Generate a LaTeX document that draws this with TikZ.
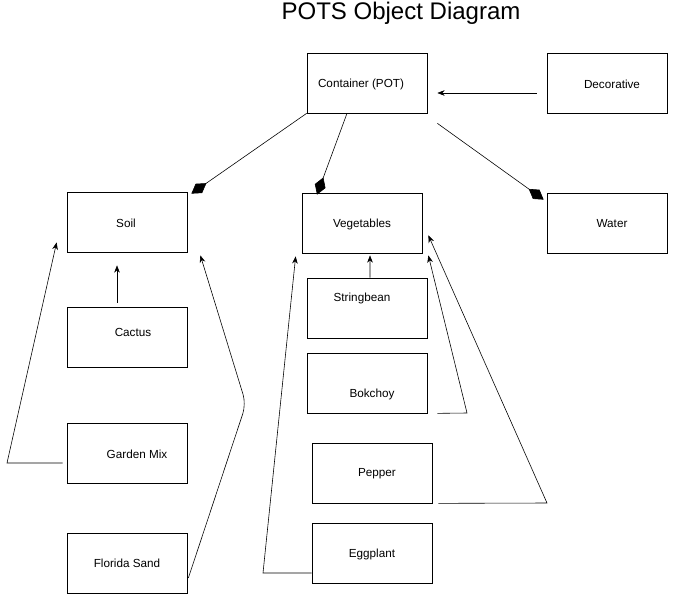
\documentclass[tikz,border=0pt]{standalone}
\usepackage{fontspec}
\setmainfont{Liberation Sans}
\usetikzlibrary{arrows.meta}

\tikzset{
    obj/.style={draw, black, line width=0.6pt, minimum width=3.6cm, minimum height=1.8cm, inner sep=0pt},
    objlabel/.style={font=\fontsize{10}{12}\selectfont, inner sep=0pt},
    link/.style={black, line width=0.5pt, -{Stealth[length=2.2mm, width=1.7mm]}},
    owns/.style={black, line width=0.5pt, -{Diamond[length=5.5mm, width=3.4mm]}}
}

\begin{document}
\begin{tikzpicture}[x=0.03cm, y=-0.03cm]
        \useasboundingbox (0,0) rectangle (678,595);
        \newcommand{\objbox}[4]{
            \node[obj] (#1) at (#2) {};
            \node[objlabel] (#1-txt) at (#3) {#4};
        }

        \node[font=\fontsize{20.5}{24}\selectfont] (title) at (401,13) {POTS Object Diagram};

        \objbox{pot}{367,83}{361,84}{Container (POT)}
        \objbox{deco}{607,83}{612,84}{Decorative}
        \objbox{soil}{127,222}{126,223}{Soil}
        \objbox{veg}{362,223}{362,224}{Vegetables}
        \objbox{water}{607,223}{612,224}{Water}

        \objbox{cactus}{127,337}{133,332}{Cactus}
        \objbox{garden}{127,453}{137,454}{Garden Mix}
        \objbox{sand}{127,563}{127,563}{Florida Sand}

        \objbox{bean}{367,308}{362,298}{Stringbean}
        \objbox{bok}{367,383}{372,394}{Bokchoy}
        \objbox{pepper}{372,473}{377,474}{Pepper}
        \objbox{egg}{372,553}{372,554}{Eggplant}

        % composition
        \draw[owns] (pot.south west) -- ([xshift=0.12cm, yshift=-0.06cm]soil.north east);
        \draw[owns] ([xshift=-0.6cm]pot.south) -- ([xshift=-1.35cm, yshift=-0.06cm]veg.north);
        \draw[owns] ([xshift=0.3cm, yshift=-0.3cm]pot.south east) -- ([xshift=-0.09cm, yshift=-0.21cm]water.north west);

        % inheritance
        \draw[link] ([xshift=-0.3cm, yshift=-0.3cm]deco.west) -- ([xshift=0.3cm, yshift=-0.3cm]pot.east);
        \draw[link] ([xshift=-0.3cm, yshift=0.12cm]cactus.north) -- ([xshift=-0.3cm, yshift=-0.39cm]soil.south);
        \draw[link] ([xshift=-0.12cm, yshift=-0.3cm]garden.west) -- (7,463) -- ([xshift=-0.3cm, yshift=0.3cm]soil.south west);
        \draw[link, rounded corners=0.3cm] ([xshift=0.03cm, yshift=-0.45cm]sand.east) -- (246,404) -- ([xshift=0.39cm, yshift=-0.09cm]soil.south east);

        \draw[link] ([xshift=0.09cm]bean.north) -- ([xshift=0.24cm, yshift=-0.06cm]veg.south);
        \draw[link] ([xshift=0.3cm]bok.south east) -- (467,413) -- ([xshift=0.18cm, yshift=-0.06cm]veg.south east);
        \draw[link] ([xshift=0.18cm]pepper.south east) -- (547,503) -- ([xshift=0.18cm, yshift=0.54cm]veg.south east);
        \draw[link] ([yshift=-0.6cm]egg.west) -- (263,573) -- ([xshift=-0.18cm, yshift=-0.09cm]veg.south west);
    \end{tikzpicture}
\end{document}
